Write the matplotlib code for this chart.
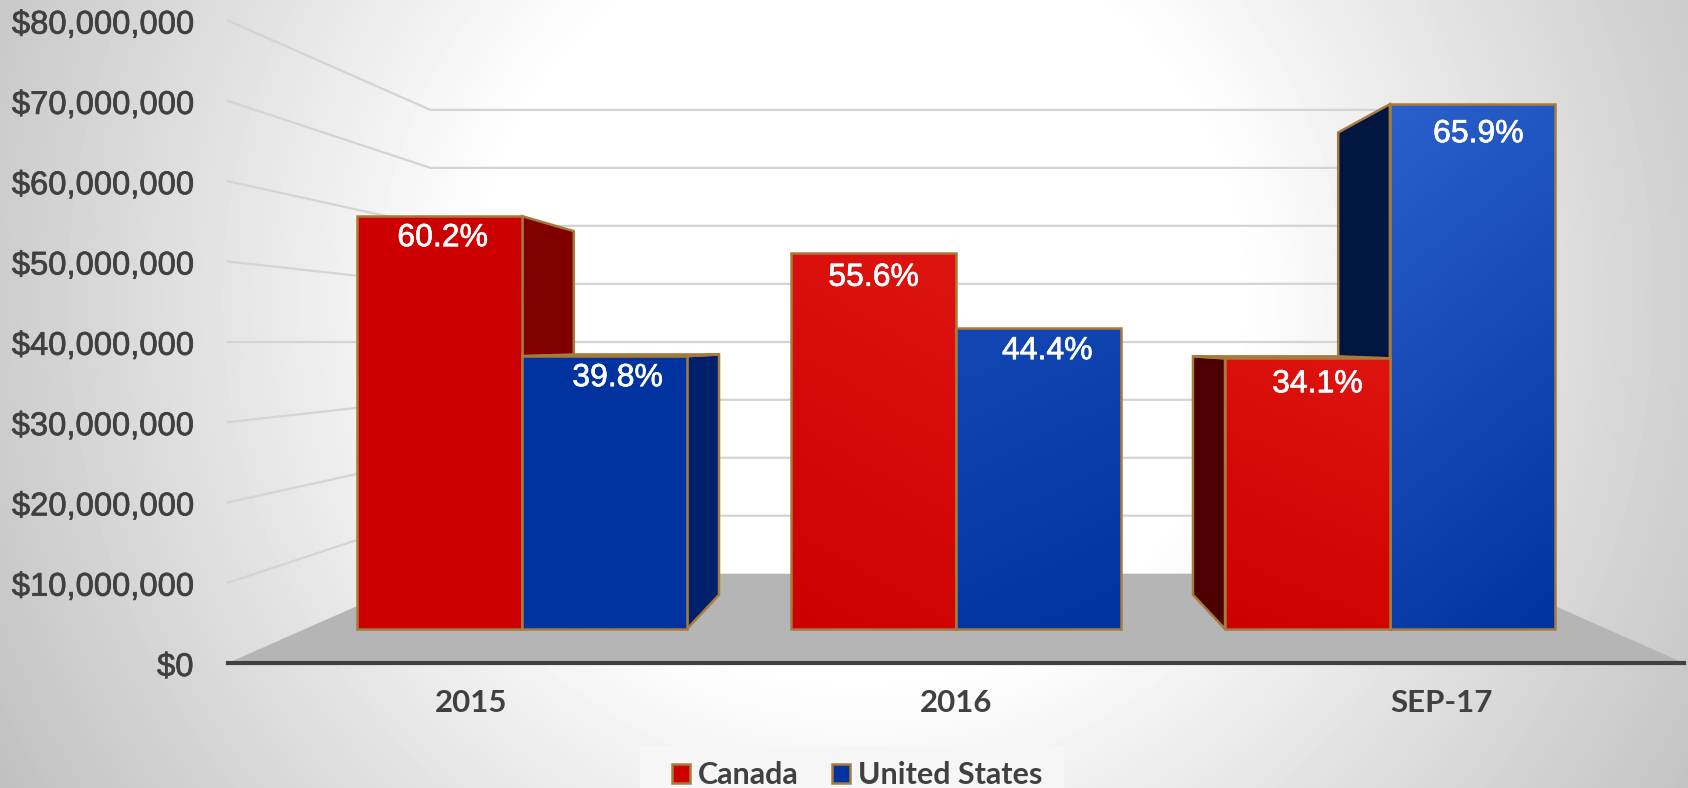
"""Canada vs United States, 3D style clustered columns on a grey vignette."""
import numpy as np
import matplotlib
matplotlib.use("Agg")
import matplotlib.pyplot as plt
import matplotlib.patheffects as pe
from matplotlib.colors import to_rgb
from matplotlib.patches import Patch, Polygon, Rectangle
from matplotlib.transforms import ScaledTranslation

categories = ["2015", "2016", "SEP-17"]
series_names = ["Canada", "United States"]
canada = [57.5e6, 52.4e6, 37.7e6]
united_states = [38.0e6, 41.9e6, 73.1e6]
canada_share = ["60.2%", "55.6%", "34.1%"]
us_share = ["39.8%", "44.4%", "65.9%"]
y_ticks = [0, 10e6, 20e6, 30e6, 40e6, 50e6, 60e6, 70e6, 80e6]

W, H = 1688, 788
PX = 0.72  # points per pixel at dpi 100
EDGE = "#A67C3D"
TEXT = "#404040"
BAR_W = 0.38
S_BACK, S_BAR_BACK, S_BAR_FRONT = 0.722, 0.7875, 0.894
HORIZON = 40e6
MID = 1.5

# (top colour, bottom colour, side colour, roof colour, tilt) per bar
CANADA_STYLE = [("#CC0000", "#CC0000", "#800000", "#800000", 0),
                ("#DE1410", "#CC0000", "#800000", "#800000", -1),
                ("#DE1410", "#CC0000", "#4D0000", "#8A2200", -1)]
US_STYLE = [("#0033A0", "#0033A0", "#00206B", "#5A5A3A", 0),
            ("#1247B4", "#0033A0", "#00206B", "#00206B", 1),
            ("#2A60CC", "#0033A0", "#001540", "#00206B", 1)]
LABEL_DX = {"Canada": [3, 0, 10], "United States": [13, 9, 6]}
LABEL_DY = {"Canada": [22, 25, 26], "United States": [22, 23, 30]}


def proj(x, v, s):
    """Depth s shrinks everything toward the vanishing point."""
    return MID + (x - MID) * s, HORIZON + (v - HORIZON) * s


def background(fig):
    bg = fig.add_axes([0, 0, 1, 1], zorder=-1)
    yy, xx = np.mgrid[0:H, 0:W]
    d = np.hypot(xx - 860, yy - 300)
    grey = np.clip(255 - 0.103 * np.clip(d - 377, 0, None), 0, 255) / 255
    bg.imshow(grey, cmap="gray", vmin=0, vmax=1, aspect="auto")
    bg.axis("off")


def draw_box(ax, x0, x1, value, style, z):
    top_c, bottom_c, side_c, roof_c, tilt = style
    edge = dict(ec=EDGE, lw=1.8, joinstyle="miter", zorder=z)
    side_x = x1 if x1 < MID else (x0 if x0 > MID else None)
    if side_x is not None:
        pts = [proj(side_x, 0, S_BAR_FRONT), proj(side_x, 0, S_BAR_BACK),
               proj(side_x, value, S_BAR_BACK), proj(side_x, value, S_BAR_FRONT)]
        ax.add_patch(Polygon(pts, fc=side_c, **edge))
    if value < HORIZON:
        pts = [proj(x0, value, S_BAR_FRONT), proj(x1, value, S_BAR_FRONT),
               proj(x1, value, S_BAR_BACK), proj(x0, value, S_BAR_BACK)]
        ax.add_patch(Polygon(pts, fc=roof_c, **edge))
    front = [proj(x0, 0, S_BAR_FRONT), proj(x1, 0, S_BAR_FRONT),
             proj(x1, value, S_BAR_FRONT), proj(x0, value, S_BAR_FRONT)]
    clip = Polygon(front, fc="none", ec="none", zorder=z)
    ax.add_patch(clip)
    ext = (front[0][0], front[1][0], front[0][1], front[2][1])
    yy, xx = np.mgrid[0:1:64j, 0:1:32j]
    across = xx if tilt > 0 else 1 - xx
    t = (0.8 * yy + 0.2 * across)[..., None] if tilt else yy[..., None]
    c0, c1 = np.array(to_rgb(top_c)), np.array(to_rgb(bottom_c))
    im = ax.imshow(c0 * (1 - t) + c1 * t, extent=ext, origin="upper",
                   aspect="auto", zorder=z, interpolation="bilinear")
    im.set_clip_path(clip)
    ax.add_patch(Polygon(front, fc="none", **edge))


def render():
    fig = plt.figure(figsize=(W / 100, H / 100), dpi=100)
    fig.patch.set_facecolor("white")
    background(fig)
    fig.add_artist(Rectangle((640 / W, 0), 424 / W, 42 / H, transform=fig.transFigure,
                             fc="#F6F6F6", ec="none", zorder=0))

    # axis runs 228..1684 px wide, $80M at y=20.6 and $0 at y=663
    ax = fig.add_axes([228 / W, (H - 663) / H, 1456 / W, 642.4 / H])
    ax.patch.set_alpha(0)
    ax.set_xlim(0, 3)
    ax.set_ylim(0, 80e6)
    ax.set_autoscale_on(False)

    # floor
    floor = [proj(0, 0, 1), proj(3, 0, 1), proj(3, 0, S_BACK), proj(0, 0, S_BACK)]
    ax.add_patch(Polygon(floor, fc="#B5B5B5", ec="none", zorder=1))

    # gridlines: left wall and back wall
    for v in y_ticks[1:]:
        pts = [proj(0, v, 1), proj(0, v, S_BACK), proj(3, v, S_BACK)]
        ax.plot(*zip(*pts), color="#D4D4D4", lw=1.6, zorder=1.5, clip_on=False,
                solid_joinstyle="miter")

    thicken = [pe.withStroke(linewidth=0.5, foreground="white")]
    for i in range(len(categories)):
        bars = [(i + 0.5 - BAR_W, i + 0.5, canada[i], CANADA_STYLE[i], canada_share[i],
                 LABEL_DX["Canada"][i], LABEL_DY["Canada"][i]),
                (i + 0.5, i + 0.5 + BAR_W, united_states[i], US_STYLE[i], us_share[i],
                 LABEL_DX["United States"][i], LABEL_DY["United States"][i])]
        # outer box first so the one nearer the middle hides its side
        bars.sort(key=lambda b: -abs((b[0] + b[1]) / 2 - MID))
        for k, (x0, x1, val, style, share, dx, dy) in enumerate(bars):
            draw_box(ax, x0, x1, val, style, 3 + k + i * 2)
        for x0, x1, val, style, share, dx, dy in bars:
            xc, yt = proj((x0 + x1) / 2, val, S_BAR_FRONT)
            ax.annotate(share, (xc, yt), xytext=(dx * PX, -dy * PX),
                        textcoords="offset points", ha="center", va="center",
                        color="white", fontsize=23, family="Liberation Sans", zorder=20,
                        path_effects=thicken)
    ax.set_xlim(0, 3)
    ax.set_ylim(0, 80e6)

    for name in ("top", "left", "right"):
        ax.spines[name].set_visible(False)
    ax.spines["bottom"].set_color(TEXT)
    ax.spines["bottom"].set_linewidth(3)
    ax.spines["bottom"].set_zorder(30)

    ax.set_yticks(y_ticks)
    ax.set_yticklabels([f"${int(v):,}" for v in y_ticks], family="Liberation Sans",
                       fontsize=23.6, color=TEXT,
                       path_effects=[pe.withStroke(linewidth=0.5, foreground=TEXT)])
    ax.tick_params(axis="y", length=0, pad=25)
    nudge = ScaledTranslation(0, -1 / 100, fig.dpi_scale_trans)
    for lab in ax.get_yticklabels():
        lab.set_transform(lab.get_transform() + nudge)
    ax.set_xticks([i + 0.5 for i in range(len(categories))])
    ax.set_xticklabels(categories, family="Lato", fontweight="bold", fontsize=22.5, color=TEXT)
    ax.tick_params(axis="x", length=0, pad=19)

    handles = [Patch(fc=CANADA_STYLE[0][1], ec=EDGE, lw=1.8),
               Patch(fc=US_STYLE[0][1], ec=EDGE, lw=1.8)]
    fig.legend(handles, series_names, loc="center", bbox_to_anchor=(857 / W, (H - 775) / H),
               ncol=2, frameon=False, handlelength=0.6, handleheight=0.6,
               handletextpad=0.25, columnspacing=1.1, borderpad=0,
               labelcolor=TEXT, prop=dict(family="Lato", weight="bold", size=22))

    fig.savefig("out.png", dpi=100)
    plt.close(fig)


if __name__ == "__main__":
    render()
